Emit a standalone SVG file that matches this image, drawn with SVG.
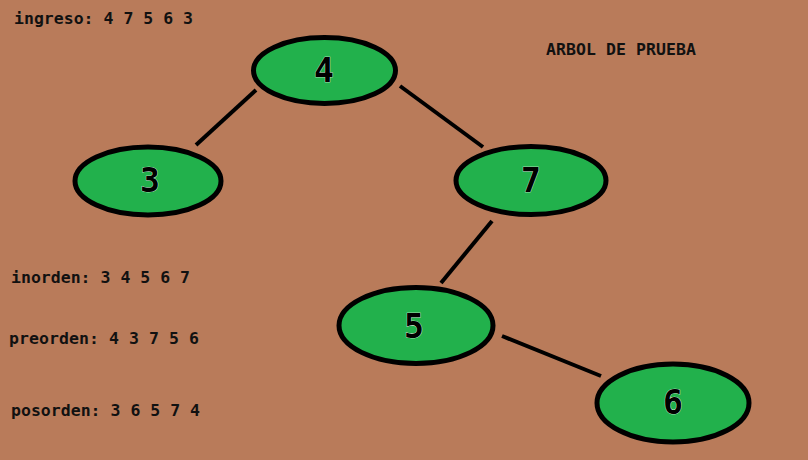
<svg xmlns="http://www.w3.org/2000/svg" width="808" height="460" viewBox="0 0 808 460">
<style>
.bg{fill:#b97b5a}
.node ellipse{fill:#22b14c;stroke:#000;stroke-width:5}
.node text{font-family:"DejaVu Sans Mono","Liberation Mono",monospace;font-weight:bold;font-size:33px;fill:#000;text-anchor:middle;dominant-baseline:central;stroke:#fff;stroke-width:0.6;paint-order:stroke}
.lbl{font-family:"DejaVu Sans Mono","Liberation Mono",monospace;font-weight:bold;font-size:16.5px;fill:#111}
#edges line{stroke:#000;stroke-width:4;stroke-linecap:butt}
</style>
<rect class="bg" x="0" y="0" width="808" height="460"/>
<g id="edges">
<line x1="256" y1="90" x2="196" y2="145"/>
<line x1="400" y1="86" x2="483" y2="147"/>
<line x1="492" y1="221" x2="441" y2="283"/>
<line x1="502" y1="336" x2="601" y2="376"/>
</g>
<g id="n4" class="node"><ellipse cx="324.5" cy="70.5" rx="71" ry="33"/><text x="324" y="70">4</text></g>
<g id="n3" class="node"><ellipse cx="148" cy="181" rx="73" ry="34"/><text x="150" y="180">3</text></g>
<g id="n7" class="node"><ellipse cx="531" cy="180.5" rx="75" ry="34"/><text x="531" y="180">7</text></g>
<g id="n5" class="node"><ellipse cx="416" cy="325.5" rx="77" ry="38"/><text x="414" y="326">5</text></g>
<g id="n6" class="node"><ellipse cx="673" cy="403" rx="76" ry="39"/><text x="673" y="402">6</text></g>
<text class="lbl" x="14" y="24" textLength="179">ingreso: 4 7 5 6 3</text>
<text class="lbl" x="546" y="55" textLength="150">ARBOL DE PRUEBA</text>
<text class="lbl" x="11" y="283" textLength="179">inorden: 3 4 5 6 7</text>
<text class="lbl" x="9" y="344" textLength="190">preorden: 4 3 7 5 6</text>
<text class="lbl" x="11" y="416" textLength="189">posorden: 3 6 5 7 4</text>
</svg>
